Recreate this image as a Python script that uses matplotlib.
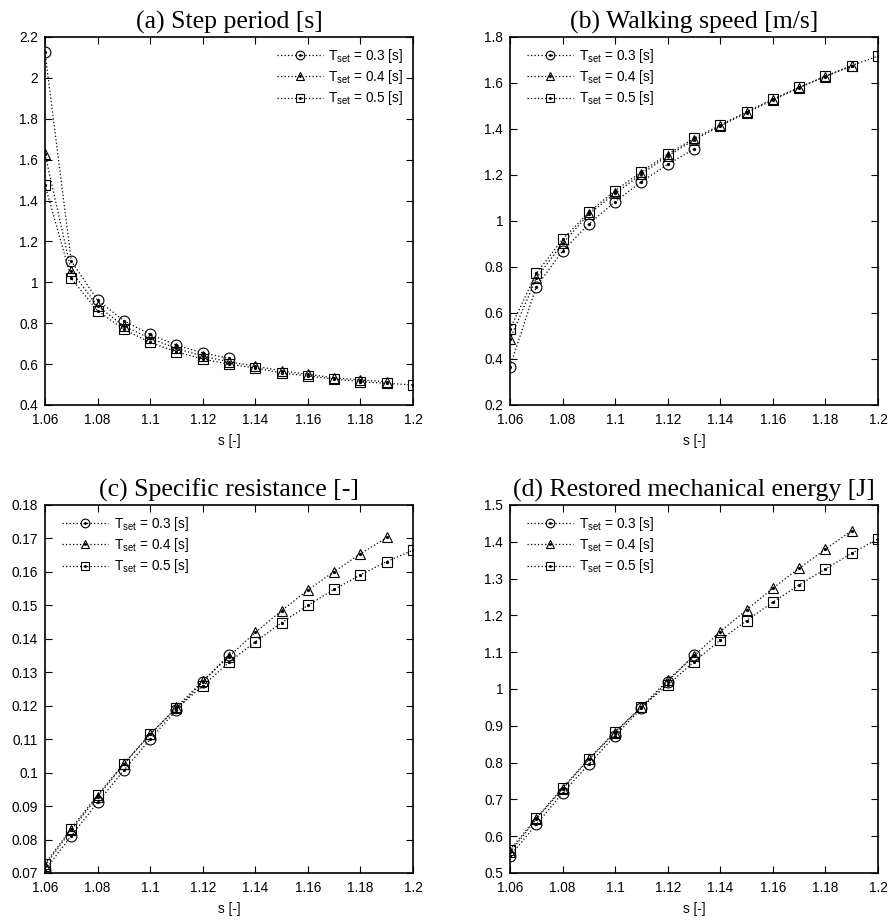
import matplotlib
matplotlib.use('Agg')
import matplotlib.pyplot as plt
from matplotlib.ticker import MultipleLocator

# ── DATA ──────────────────────────────────────────────────────────────────────
S_ALL = [1.06, 1.07, 1.08, 1.09, 1.10, 1.11, 1.12, 1.13,
         1.14, 1.15, 1.16, 1.17, 1.18, 1.19, 1.20]
S_03 = S_ALL[:8]     # T_set = 0.3 stops walking after s = 1.13
S_04 = S_ALL[:14]    # T_set = 0.4 stops after s = 1.19
S_05 = S_ALL         # T_set = 0.5 covers the full range

LABELS = [r'T$_\mathregular{set}$ = 0.3 [s]',
          r'T$_\mathregular{set}$ = 0.4 [s]',
          r'T$_\mathregular{set}$ = 0.5 [s]']

# (a) step period [s]
period_03 = [2.125, 1.104, 0.913, 0.812, 0.745, 0.693, 0.655, 0.628]
period_04 = [1.628, 1.055, 0.884, 0.786, 0.726, 0.677, 0.639, 0.611,
             0.590, 0.567, 0.550, 0.533, 0.522, 0.514]
period_05 = [1.476, 1.019, 0.861, 0.770, 0.706, 0.660, 0.625, 0.599,
             0.581, 0.557, 0.542, 0.527, 0.514, 0.506, 0.498]

# (b) walking speed [m/s]
speed_03 = [0.367, 0.714, 0.870, 0.987, 1.084, 1.171, 1.246, 1.313]
speed_04 = [0.486, 0.751, 0.903, 1.030, 1.120, 1.204, 1.283, 1.352,
            1.413, 1.471, 1.526, 1.580, 1.628, 1.674]
speed_05 = [0.530, 0.772, 0.920, 1.038, 1.132, 1.214, 1.291, 1.359,
            1.417, 1.475, 1.530, 1.581, 1.630, 1.676, 1.717]

# (c) specific resistance [-]
resist_03 = [0.0709, 0.0811, 0.0911, 0.1007, 0.1100, 0.1187, 0.1272, 0.1352]
resist_04 = [0.0722, 0.0828, 0.0928, 0.1025, 0.1115, 0.1195, 0.1274, 0.1347,
             0.1419, 0.1484, 0.1546, 0.1601, 0.1654, 0.1703]
resist_05 = [0.0727, 0.0833, 0.0933, 0.1027, 0.1115, 0.1192, 0.1259, 0.1330,
             0.1391, 0.1448, 0.1500, 0.1548, 0.1591, 0.1631, 0.1665]

# (d) restored mechanical energy [J]
energy_03 = [0.547, 0.632, 0.717, 0.796, 0.873, 0.948, 1.020, 1.092]
energy_04 = [0.556, 0.647, 0.728, 0.809, 0.881, 0.952, 1.024, 1.090,
             1.156, 1.215, 1.274, 1.328, 1.380, 1.430]
energy_05 = [0.563, 0.649, 0.732, 0.810, 0.884, 0.951, 1.011, 1.074,
             1.133, 1.186, 1.236, 1.283, 1.326, 1.369, 1.408]

# ── STYLE ─────────────────────────────────────────────────────────────────────
plt.rcParams['font.family'] = ['Liberation Sans', 'DejaVu Sans']
plt.rcParams['mathtext.fontset'] = 'custom'
plt.rcParams['mathtext.rm'] = 'Liberation Sans'

MARKERS = [('o', 7.8), ('^', 7.8), ('s', 7.8)]
DOTTED = (0, (1, 1.8))


def fmt_g(v, pos):
    return '%g' % round(v, 6)


# ── PLOT ──────────────────────────────────────────────────────────────────────
def draw_panel(ax, title, series, ylim, ystep, legend_loc):
    handles = []
    for (xs, ys), (mk, ms) in zip(series, MARKERS):
        line, = ax.plot(xs, ys, color='black', linestyle=DOTTED, linewidth=0.9,
                        marker=mk, markersize=ms, markerfacecolor='none',
                        markeredgecolor='black', markeredgewidth=0.8)
        dots, = ax.plot(xs, ys, linestyle='none', marker='o', markersize=1.3,
                        color='black')
        handles.append((line, dots))

    ax.set_xlim(1.06, 1.2)
    ax.set_ylim(*ylim)
    ax.xaxis.set_major_locator(MultipleLocator(0.02))
    ax.yaxis.set_major_locator(MultipleLocator(ystep))
    ax.xaxis.set_major_formatter(fmt_g)
    ax.yaxis.set_major_formatter(fmt_g)
    ax.tick_params(direction='in', length=5, width=0.8, labelsize=9.8,
                   top=True, right=True, pad=5)
    ax.tick_params(axis='x', pad=6)
    for sp in ax.spines.values():
        sp.set_linewidth(1.2)

    ax.set_title(title, fontsize=18.5, family=['Liberation Serif'], pad=6)
    ax.set_xlabel('s [-]', fontsize=9.8, labelpad=5)

    # nudge the left-hand legends in from the frame, keep the same height
    anchor = (1, 1) if legend_loc == 'upper right' else (0.02, 1)
    ax.legend(handles, LABELS, loc=legend_loc, bbox_to_anchor=anchor,
              frameon=False, fontsize=9.8,
              handlelength=3.4, handletextpad=0.4, labelspacing=0.25,
              markerscale=0.8, borderaxespad=0.3)


fig = plt.figure(figsize=(8.91, 9.23), dpi=100)
W, H = 368 / 891, 368 / 923
ax_a = fig.add_axes([45 / 891, 518 / 923, W, H])
ax_b = fig.add_axes([510 / 891, 518 / 923, W, H])
ax_c = fig.add_axes([45 / 891, 50 / 923, W, H])
ax_d = fig.add_axes([510 / 891, 50 / 923, W, H])

draw_panel(ax_a, '(a) Step period [s]',
           [(S_03, period_03), (S_04, period_04), (S_05, period_05)],
           (0.4, 2.2), 0.2, 'upper right')
draw_panel(ax_b, '(b) Walking speed [m/s]',
           [(S_03, speed_03), (S_04, speed_04), (S_05, speed_05)],
           (0.2, 1.8), 0.2, 'upper left')
draw_panel(ax_c, '(c) Specific resistance [-]',
           [(S_03, resist_03), (S_04, resist_04), (S_05, resist_05)],
           (0.07, 0.18), 0.01, 'upper left')
draw_panel(ax_d, '(d) Restored mechanical energy [J]',
           [(S_03, energy_03), (S_04, energy_04), (S_05, energy_05)],
           (0.5, 1.5), 0.1, 'upper left')

fig.savefig('out.png', dpi=100)
